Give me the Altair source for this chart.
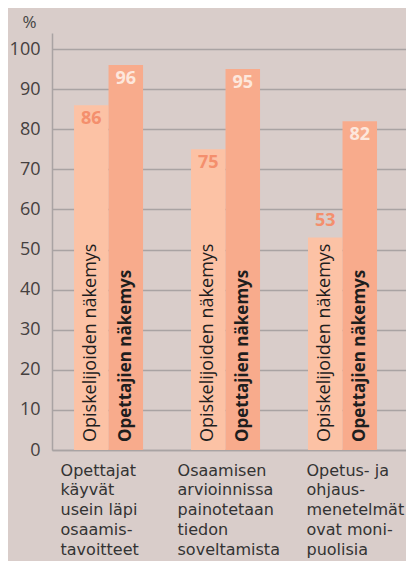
import altair as alt
import pandas as pd

# ---- data ----
categories = [
    ["Opettajat", "käyvät", "usein läpi", "osaamis-", "tavoitteet"],
    ["Osaamisen", "arvioinnissa", "painotetaan", "tiedon", "soveltamista"],
    ["Opetus- ja", "ohjaus-", "menetelmät", "ovat moni-", "puolisia"],
]
series = ["Opiskelijoiden näkemys", "Opettajien näkemys"]
students = [86, 75, 53]
teachers = [96, 95, 82]
y_ticks = [0, 10, 20, 30, 40, 50, 60, 70, 80, 90, 100]

cat_keys = ["|".join(c) for c in categories]
rows = []
for k, s, t in zip(cat_keys, students, teachers):
    rows.append({"cat": k, "series": series[0], "value": s})
    rows.append({"cat": k, "series": series[1], "value": t})
df = pd.DataFrame(rows)

BG = "#d9cdca"
GRID = "#a9a3a3"
C_STU = "#fcc2a5"
C_TEA = "#f8ab8c"
FONT = "Open Sans"
XFONT = "DejaVu Sans"

x_enc = alt.X(
    "cat:N",
    sort=cat_keys,
    scale=alt.Scale(paddingInner=0.41, paddingOuter=0.218, align=0.432),
    axis=alt.Axis(
        title=None,
        ticks=False,
        domain=True,
        domainColor=GRID,
        domainWidth=1.5,
        labelAngle=0,
        labelAlign="left",
        labelBaseline="top",
        labelPadding=12,
        labelFontSize=16,
        labelFont=XFONT,
        labelColor="#333333",
        labelLineHeight=19.8,
        labelLimit=200,
        labelOverlap=False,
        labelExpr="split(datum.label, '|')",
        labelOffset={"condition": {"test": f"datum.value == '{cat_keys[2]}'", "value": -36}, "value": -48},
    ),
)
xo_enc = alt.XOffset("series:N", sort=series, scale=alt.Scale(paddingInner=0, paddingOuter=0))
y_scale = alt.Scale(domain=[0, 104], nice=False)

base = alt.Chart(df)

bars = base.mark_bar().encode(
    x=x_enc,
    xOffset=xo_enc,
    y=alt.Y(
        "value:Q",
        scale=y_scale,
        axis=alt.Axis(
            values=y_ticks,
            title="%",
            titleAngle=0,
            titleAlign="center",
            titleBaseline="alphabetic",
            titleX=-23,
            titleY=-6,
            titleFont=FONT,
            titleFontSize=17,
            titleFontWeight="normal",
            titleColor="#444444",
            ticks=False,
            domain=True,
            domainColor=GRID,
            domainWidth=1.5,
            grid=True,
            gridColor=GRID,
            gridWidth=1.5,
            labelFont=FONT,
            labelFontSize=18,
            labelColor="#454040",
            labelPadding=12,
        ),
    ),
    color=alt.Color("series:N", sort=series, scale=alt.Scale(domain=series, range=[C_STU, C_TEA]), legend=None),
)

val_color = alt.condition(alt.datum.series == series[0], alt.value("#f48f6d"), alt.value("#fde7dc"))

vals_in = base.transform_filter(alt.datum.value >= 60).mark_text(
    baseline="top", dy=5, fontSize=18, fontWeight="bold", font=FONT
).encode(x=x_enc, xOffset=xo_enc, y=alt.Y("value:Q", scale=y_scale), text="value:Q", color=val_color)

vals_out = base.transform_filter(alt.datum.value < 60).mark_text(
    baseline="alphabetic", dy=-11, fontSize=18, fontWeight="bold", font=FONT
).encode(x=x_enc, xOffset=xo_enc, y=alt.Y("value:Q", scale=y_scale), text="value:Q", color=val_color)

names_stu = base.transform_filter(alt.datum.series == series[0]).mark_text(
    angle=270, align="left", baseline="middle", dx=8, fontSize=18, font=FONT, color="#1e1e1e"
).encode(x=x_enc, xOffset=xo_enc, y=alt.Y(datum=0, scale=y_scale), text="series:N")

names_tea = base.transform_filter(alt.datum.series == series[1]).mark_text(
    angle=270, align="left", baseline="middle", dx=8, fontSize=17, font=FONT, fontWeight="bold", color="#1e1e1e"
).encode(x=x_enc, xOffset=xo_enc, y=alt.Y(datum=0, scale=y_scale), text="series:N")

chart = (
    alt.layer(bars, vals_in, vals_out, names_stu, names_tea)
    .properties(
        width=354,
        height=417,
        autosize=alt.AutoSizeParams(type="none"),
        padding={"left": 44, "top": 25, "right": 0, "bottom": 111},
        background=BG,
    )
    .configure_view(stroke=None)
)

chart.save("out.html", embed_options={"renderer": "svg", "actions": False})
